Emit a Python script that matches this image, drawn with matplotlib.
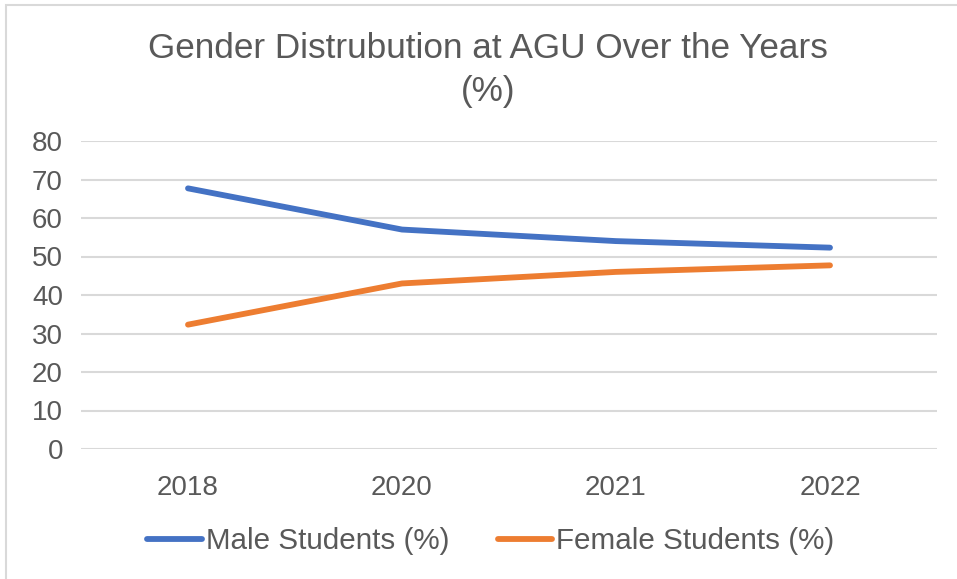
import matplotlib
matplotlib.use("Agg")
import matplotlib.pyplot as plt
from matplotlib.patches import Rectangle

years = ["2018", "2020", "2021", "2022"]
male = [67.7, 57, 54, 52.3]
female = [32.3, 43, 46, 47.7]
series_names = ["Male Students (%)", "Female Students (%)"]
title = "Gender Distrubution at AGU Over the Years\n(%)"

plt.rcParams['font.family'] = ['Liberation Sans', 'DejaVu Sans']
TXT = '#595959'
W, H = 957, 579
fig = plt.figure(figsize=(W/100, H/100), dpi=100)

# outer border
fig.patches.append(Rectangle((6/W, -0.05), 1.2, 1 - 5/H + 0.05, transform=fig.transFigure,
                             fill=False, edgecolor='#d9d9d9', linewidth=1.5))

ax = fig.add_axes([81/W, 130/H, 856/W, 308/H])
x = list(range(len(years)))
ax.plot(x, male, color='#4472C4', lw=4.2, solid_capstyle='round', label=series_names[0])
ax.plot(x, female, color='#ED7D31', lw=4.2, solid_capstyle='round', label=series_names[1])

ax.set_xlim(-0.5, len(years) - 0.5)
ax.set_ylim(0, 80)
ax.set_yticks(range(0, 81, 10))
ax.set_xticks(x)
ax.set_xticklabels(years)
for s in ax.spines.values():
    s.set_visible(False)
ax.grid(axis='y', color='#d9d9d9', lw=1.5)
ax.set_axisbelow(True)
ax.tick_params(axis='both', length=0, labelsize=20, labelcolor=TXT)
ax.tick_params(axis='y', pad=13)
ax.tick_params(axis='x', pad=19)

fig.text(488/W, 1 - 70/H, title, ha='center', va='center', fontsize=25.3,
         color=TXT, multialignment='center', linespacing=1.4)

leg = fig.legend(loc='center', bbox_to_anchor=(491/W, 1 - 541/H), ncol=2, frameon=False,
                 fontsize=21.3, labelcolor=TXT, handlelength=1.85, handletextpad=0.14,
                 columnspacing=1.62)

fig.savefig('out.png', dpi=100)
